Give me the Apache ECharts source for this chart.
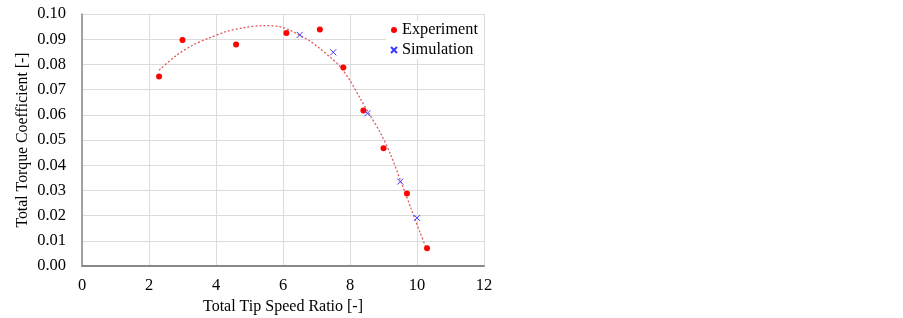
<!DOCTYPE html>
<html>
<head>
<meta charset="utf-8">
<script src="https://cdn.jsdelivr.net/npm/echarts@6/dist/echarts.min.js"></script>
<style>
html,body{margin:0;padding:0;background:#fff;}
#chart{width:903px;height:318px;}
</style>
</head>
<body>
<div id="chart"></div>
<script>
//实验数据
var expTsr = [2.3, 3.0, 4.6, 6.1, 7.1, 7.8, 8.4, 9.0, 9.7, 10.3];
var expCt = [0.0752, 0.0897, 0.0879, 0.0925, 0.0938, 0.0788, 0.0617, 0.0467, 0.0288, 0.0070];
//模拟数据
var simTsr = [6.5, 7.5, 8.52, 9.5, 10.0];
var simCt = [0.0917, 0.0848, 0.0606, 0.0335, 0.0191];
//趋势线
var trendTsr = [2.3, 2.8, 3.3, 3.8, 4.3, 4.8, 5.4, 5.9, 6.2, 6.5, 6.8, 7.1, 7.4, 7.7, 8.0, 8.3, 8.6, 8.9, 9.2, 9.5, 9.8, 10.1, 10.3];
var trendCt = [0.0777, 0.0834, 0.0876, 0.0905, 0.0930, 0.0945, 0.0954, 0.0950, 0.0936, 0.0916, 0.0893, 0.0863, 0.0830, 0.0792, 0.0736, 0.0666, 0.0598, 0.0530, 0.0446, 0.0342, 0.0236, 0.0130, 0.0062];

var xTicks = [0, 2, 4, 6, 8, 10, 12];

function pairs(xs, ys) {
	var out = [];
	for (var i = 0; i < xs.length; i++) {
		out.push([xs[i], ys[i]]);
	}
	return out;
}

var font = 'Liberation Serif';
var chart = echarts.init(document.getElementById('chart'));
var option = {
	animation: false,
	backgroundColor: '#fff',
	textStyle: { fontFamily: font },
	grid: { left: 82, right: 419, top: 14, bottom: 52, outerBoundsMode: 'none', containLabel: false },
	legend: {
		data: ['Experiment', 'Simulation'],
		orient: 'vertical',
		left: 386,
		top: 21,
		itemWidth: 6,
		itemHeight: 6,
		itemGap: 4,
		backgroundColor: '#fff',
		padding: [1, 6, 1, 4],
		textStyle: { fontFamily: font, fontSize: 16.3, color: '#000' }
	},
	xAxis: {
		type: 'value',
		min: xTicks[0],
		max: xTicks[xTicks.length - 1],
		interval: 2,
		name: 'Total Tip Speed Ratio [-]',
		nameLocation: 'middle',
		nameGap: 33,
		nameTextStyle: { fontFamily: font, fontSize: 16, color: '#000' },
		axisLine: { lineStyle: { color: '#888', width: 2 } },
		axisTick: { show: false },
		axisLabel: { fontFamily: font, fontSize: 16.5, color: '#000', margin: 11 },
		splitLine: { lineStyle: { color: '#dcdcdc' } }
	},
	yAxis: {
		type: 'value',
		min: 0,
		max: 0.1,
		interval: 0.01,
		name: 'Total Torque Coefficient [-]',
		nameLocation: 'middle',
		nameGap: 51,
		nameTextStyle: { fontFamily: font, fontSize: 15.8, color: '#000' },
		axisLine: { show: true, lineStyle: { color: '#888', width: 1.5 } },
		axisTick: { show: false },
		axisLabel: {
			fontFamily: font, fontSize: 16.5, color: '#000', margin: 16,
			formatter: function (v) { return v.toFixed(2); }
		},
		splitLine: { lineStyle: { color: '#dcdcdc' } }
	},
	series: [
		{
			name: 'Trend',
			type: 'line',
			data: pairs(trendTsr, trendCt),
			smooth: 0.3,
			showSymbol: false,
			silent: true,
			lineStyle: { color: '#e05a5a', width: 1.3, type: [2, 2] },
			z: 1
		},
		{
			name: 'Experiment',
			type: 'scatter',
			data: pairs(expTsr, expCt),
			symbol: 'circle',
			symbolSize: 6,
			itemStyle: { color: '#ff0000', opacity: 1 },
			z: 3
		},
		{
			name: 'Simulation',
			type: 'scatter',
			data: pairs(simTsr, simCt),
			symbol: 'path://M0,0L10,10M10,0L0,10',
			symbolSize: 6,
			itemStyle: { color: 'transparent', borderColor: '#3a3aff', borderWidth: 1, opacity: 1 },
			z: 4
		}
	]
};
chart.setOption(option);
</script>
</body>
</html>
